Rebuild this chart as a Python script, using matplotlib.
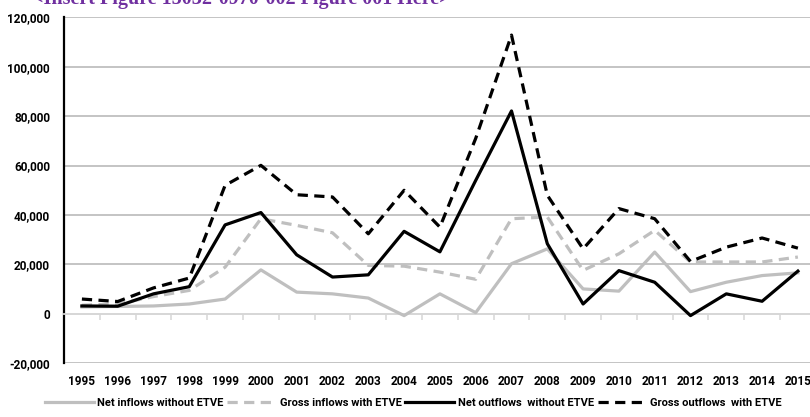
import numpy as np
import matplotlib.pyplot as plt
from matplotlib.ticker import FuncFormatter, FixedLocator

years = [str(y) for y in range(1995, 2016)]

net_inflows = [2800, 3000, 3200, 4000, 6000, 17800, 8800, 8100, 6400, -700, 8100,
               500, 20300, 26300, 10100, 9200, 25000, 9000, 12800, 15500, 16600]
gross_inflows = [3500, 4000, 7000, 9500, 18900, 38500, 35800, 32800, 19600, 19300, 16900,
                 14000, 38500, 39200, 17600, 24300, 33800, 21000, 21000, 21000, 23000]
net_outflows = [3200, 3100, 8100, 11000, 36000, 41000, 23900, 14900, 15800, 33400, 25100,
                54000, 82100, 28400, 4000, 17500, 12800, -700, 8100, 5100, 17300]
gross_outflows = [6000, 5000, 10500, 14500, 52000, 60100, 48200, 47300, 32400, 50000, 35100,
                  71000, 112800, 48000, 26300, 42600, 38500, 21200, 27000, 30700, 26600]

plt.rcParams['font.family'] = ['Roboto', 'DejaVu Sans']
plt.rcParams['font.weight'] = 'bold'

fig = plt.figure(figsize=(8.1, 4.17), dpi=100)
ax = fig.add_axes([64 / 810, 1 - 363.3 / 417, 751.8 / 810, (363.3 - 17.3) / 417])

x = np.arange(len(years))
grey = '#bfbfbf'
lw = 2.3
ax.plot(x, net_inflows, color=grey, lw=lw, label='Net inflows without ETVE', zorder=3)
ax.plot(x, gross_inflows, color=grey, lw=lw, dashes=(3.2, 2.0), label='Gross inflows with ETVE', zorder=3)
ax.plot(x, net_outflows, color='black', lw=lw, label='Net outflows  without ETVE', zorder=4)
ax.plot(x, gross_outflows, color='black', lw=lw, dashes=(3.2, 2.0), label='Gross outflows  with ETVE', zorder=4)

ax.set_xlim(-0.5, 20.5)
ax.set_ylim(-20000, 120000)
ax.set_yticks(range(-20000, 120001, 20000))
ax.yaxis.set_major_formatter(FuncFormatter(lambda v, p: f'{int(v):,}'))
ax.tick_params(axis='y', length=0, pad=10, labelsize=8.5)
ax.grid(axis='y', color=grey, lw=1.3, zorder=0)
ax.set_axisbelow(True)

for s in ['top', 'right']:
    ax.spines[s].set_visible(False)
ax.spines['left'].set_color('black')
ax.spines['left'].set_linewidth(1.6)
ax.spines['bottom'].set_position(('data', 0))
ax.spines['bottom'].set_color('#d9d9d9')
ax.spines['bottom'].set_linewidth(1.3)

ax.set_xticks(x)
ax.set_xticklabels(years)
ax.xaxis.set_minor_locator(FixedLocator(np.arange(0.5, 20.5, 1)))
ax.tick_params(axis='x', which='major', length=0, pad=44, labelsize=8.5)
ax.tick_params(axis='x', which='minor', length=4, width=1.2, color='#d9d9d9', direction='out')

fig.text(32 / 810, 1 - 4 / 417, '<Insert Figure 15032-0970-002 Figure 001 Here>',
         family='Liberation Serif', weight='bold', size=14.5, color='#7030a0', va='baseline')

ax.legend(loc='center', bbox_to_anchor=(0.51, 0.034), bbox_transform=fig.transFigure,
          ncol=4, frameon=False, fontsize=8, handlelength=4.4, handletextpad=0.3,
          columnspacing=0.35)

fig.savefig('out.png', dpi=100)
